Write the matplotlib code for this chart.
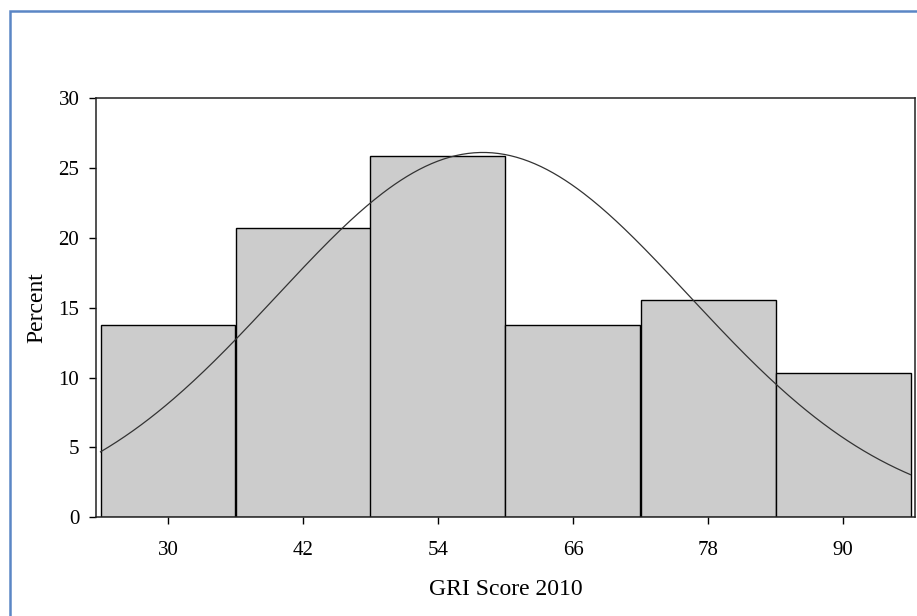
import numpy as np
import matplotlib
matplotlib.use("Agg")
import matplotlib.pyplot as plt
from matplotlib.patches import Rectangle

# Histogram of GRI scores (bin midpoints, width 12) and percentage per bin
bin_centers = [30, 42, 54, 66, 78, 90]
percents = [13.79, 20.69, 25.86, 13.79, 15.52, 10.34]
bin_width = 12
tick_labels = ["30", "42", "54", "66", "78", "90"]

# Fitted normal curve parameters
fit_mean = 58.0
fit_sd = 18.34

plt.rcParams["font.family"] = ["Liberation Serif", "DejaVu Serif"]

fig = plt.figure(figsize=(9.17, 6.16), dpi=100)

# Blue outer frame
frame = Rectangle((9.5 / 917, -0.1), 1.2, (616 - 11) / 616 + 0.1,
                  transform=fig.transFigure, fill=False,
                  edgecolor="#5B86C5", linewidth=1.8)
fig.add_artist(frame)

ax = fig.add_axes([96 / 917, (616 - 517.3) / 616, (915 - 96) / 917, (517.3 - 98) / 616])

ax.bar(bin_centers, percents, width=bin_width, color="#CCCCCC",
       edgecolor="black", linewidth=1.0, zorder=2)

lo = bin_centers[0] - bin_width / 2
hi = bin_centers[-1] + bin_width / 2
xs = np.linspace(lo, hi, 400)
n_scale = 100 * bin_width
ys = n_scale / (fit_sd * np.sqrt(2 * np.pi)) * np.exp(-0.5 * ((xs - fit_mean) / fit_sd) ** 2)
ax.plot(xs, ys, color="#333333", linewidth=0.9, zorder=3)

ax.set_xlim(23.6, 96.4)
ax.set_ylim(0, 30)
ax.set_xticks(bin_centers)
ax.set_xticklabels(tick_labels)
ax.set_yticks([0, 5, 10, 15, 20, 25, 30])

for s in ax.spines.values():
    s.set_color("#222222")
    s.set_linewidth(1.1)

ax.tick_params(axis="both", direction="out", length=5, width=1, labelsize=15)
ax.tick_params(axis="y", pad=7)
ax.tick_params(axis="x", pad=12)

ax.set_xlabel("GRI Score 2010", fontsize=17, labelpad=14)
ax.set_ylabel("Percent", fontsize=17, labelpad=8)

fig.savefig("out.png", dpi=100)
